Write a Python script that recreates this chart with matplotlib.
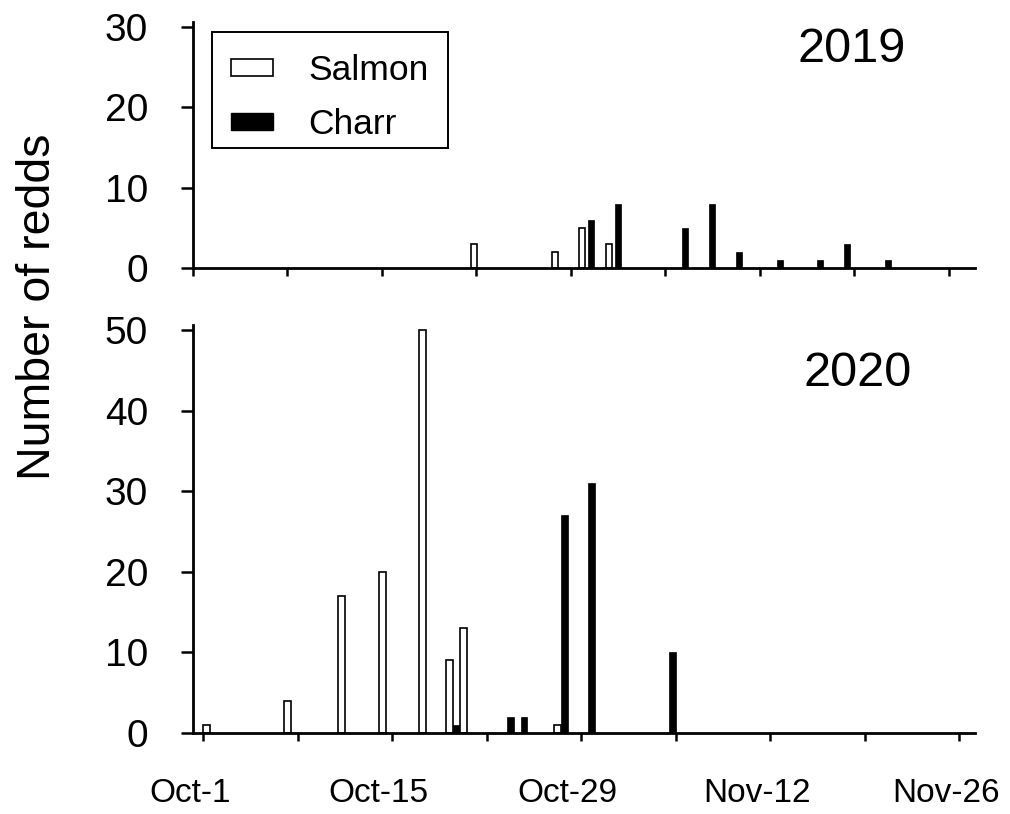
import matplotlib.pyplot as plt
from matplotlib.patches import Patch, Rectangle
from matplotlib.transforms import ScaledTranslation

plt.rcParams['font.family'] = ['Liberation Sans', 'DejaVu Sans']

# redd counts, day numbers counted from Oct-1
salmon_2019_day = [20, 26, 28, 30]
salmon_2019_n = [3, 2, 5, 3]
charr_2019_day = [28, 30, 35, 37, 39, 42, 45, 47, 50]
charr_2019_n = [6, 8, 5, 8, 2, 1, 1, 3, 1]

salmon_2020_day = [0, 6, 10, 13, 16, 18, 19, 26]
salmon_2020_n = [1, 4, 17, 20, 50, 9, 13, 1]
charr_2020_day = [18, 22, 23, 26, 28, 34]
charr_2020_n = [1, 2, 2, 27, 31, 10]

tick_days = list(range(0, 57, 7))
tick_labels = ['Oct-1', '', 'Oct-15', '', 'Oct-29', '', 'Nov-12', '', 'Nov-26']

W, H = 1010, 814
fig = plt.figure(figsize=(W / 100, H / 100), dpi=100)


def px_axes(left, top, right, bottom):
    return fig.add_axes([left / W, 1 - bottom / H, (right - left) / W, (bottom - top) / H])


ax1 = px_axes(192.5, 22, 975, 268.3)
ax2 = px_axes(192.5, 325.4, 975, 732.7)

for ax in (ax1, ax2):
    for side in ('top', 'right'):
        ax.spines[side].set_visible(False)
    for side in ('left', 'bottom'):
        ax.spines[side].set_linewidth(2.0)
    ax.tick_params(axis='y', direction='out', length=9, width=1.8, labelsize=28, pad=23)
    ax.tick_params(axis='x', direction='out', length=5.4, width=1.8)
    ax.set_xlim(-0.8, 57.16)

# 2019
ax1.bar([d + 0.05 for d in salmon_2019_day], salmon_2019_n, width=0.45,
        color='white', edgecolor='black', linewidth=1.2)
ax1.bar([d + 0.69 for d in charr_2019_day], charr_2019_n, width=0.45,
        color='black', edgecolor='black', linewidth=0.5)
ax1.set_ylim(0, 30.6)
ax1.set_yticks([0, 10, 20, 30])
ax1.set_xticks([d - 0.8 for d in tick_days])
ax1.set_xticklabels([])

# 2020
ax2.bar([d + 0.75 for d in charr_2020_day], charr_2020_n, width=0.48,
        color='black', edgecolor='black', linewidth=0.5)
ax2.bar([d + 0.25 for d in salmon_2020_day], salmon_2020_n, width=0.5,
        color='white', edgecolor='black', linewidth=1.2)
ax2.set_ylim(0, 50.6)
ax2.set_yticks([0, 10, 20, 30, 40, 50])
ax2.set_xticks(tick_days)
ax2.set_xticklabels(tick_labels, fontsize=24)
ax2.tick_params(axis='x', pad=27.5)
shift = ScaledTranslation(-13.5 / 100, 0, fig.dpi_scale_trans)
for lab in ax2.get_xticklabels():
    lab.set_transform(lab.get_transform() + shift)

# legend entries without frame, box drawn separately
handles = [Patch(facecolor='white', edgecolor='black', linewidth=1.2),
           Patch(facecolor='black', edgecolor='black')]
ax1.legend(handles, ['Salmon', 'Charr'], loc='upper left',
           bbox_to_anchor=(231 / W, 1 - 54.3 / H), bbox_transform=fig.transFigure,
           borderaxespad=0, fontsize=25.5, frameon=False,
           handlelength=1.19, handleheight=0.34,
           handletextpad=0.99, borderpad=0, labelspacing=0.59)
fig.add_artist(Rectangle((212 / W, 1 - 148 / H), 236 / W, 116 / H,
                         transform=fig.transFigure, fill=False,
                         edgecolor='black', linewidth=1.4))

fig.text(852 / W, 1 - 49 / H, '2019', fontsize=35, ha='center', va='center')
fig.text(858 / W, 1 - 373 / H, '2020', fontsize=35, ha='center', va='center')
fig.text(38 / W, 1 - 307 / H, 'Number of redds', rotation=90, fontsize=33.5,
         ha='center', va='center')

fig.savefig('out.png', dpi=100)
